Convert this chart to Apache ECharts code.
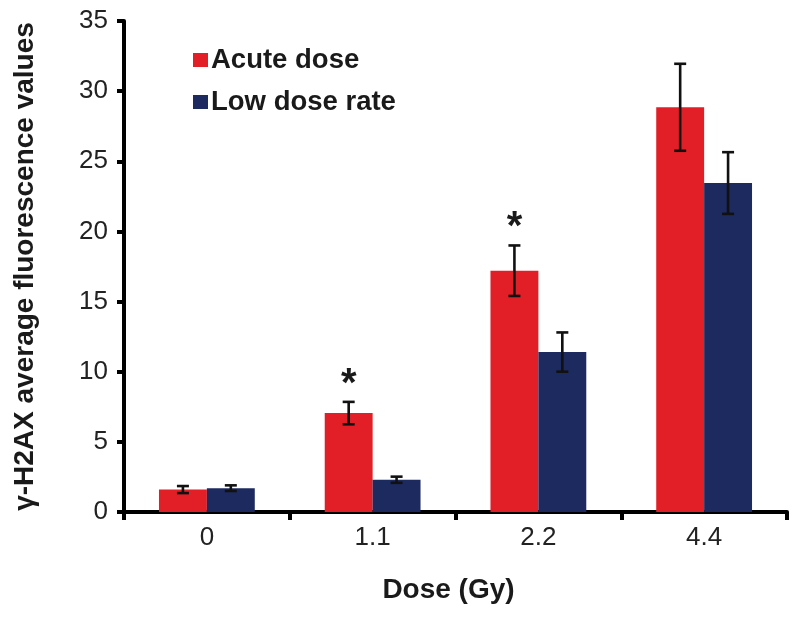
<!DOCTYPE html>
<html>
<head>
<meta charset="utf-8">
<script src="https://cdn.jsdelivr.net/npm/echarts@6/dist/echarts.min.js"></script>
<style>html,body{margin:0;padding:0;background:#fff;}#c{width:800px;height:619px;}</style>
</head>
<body>
<div id="c"></div>
<script>
const categories = ['0', '1.1', '2.2', '4.4'];
const acuteMeans = [1.6, 7.05, 17.2, 28.85];
const acuteErrors = [0.25, 0.8, 1.8, 3.1];
const lowRateMeans = [1.7, 2.3, 11.4, 23.45];
const lowRateErrors = [0.2, 0.22, 1.4, 2.2];
const significant = [false, true, true, false];
const yTicks = { min: 0, max: 35, interval: 5 };

const RED = '#e21f26';
const NAVY = '#1c2a5f';
const FONT = '"Liberation Sans", Arial, Helvetica, sans-serif';
const BAR_FRAC = 0.289;

function errorSeries(means, errs, sign) {
  return {
    type: 'custom',
    silent: true,
    z: 5,
    data: means.map((m, i) => [i, m, errs[i]]),
    renderItem: function (params, api) {
      const i = api.value(0), m = api.value(1), e = api.value(2);
      const band = api.size([1, 0])[0];
      const off = sign * band * BAR_FRAC / 2;
      const top = api.coord([i, m + e]);
      const bot = api.coord([i, m - e]);
      const x = top[0] + off;
      const cap = 6;
      const st = { stroke: '#111', lineWidth: 2.6 };
      return {
        type: 'group',
        children: [
          { type: 'line', shape: { x1: x, y1: top[1], x2: x, y2: bot[1] }, style: st },
          { type: 'line', shape: { x1: x - cap, y1: top[1], x2: x + cap, y2: top[1] }, style: st },
          { type: 'line', shape: { x1: x - cap, y1: bot[1], x2: x + cap, y2: bot[1] }, style: st }
        ]
      };
    }
  };
}

const chart = echarts.init(document.getElementById('c'), null, { renderer: 'canvas' });
chart.setOption({
  animation: false,
  backgroundColor: '#ffffff',
  textStyle: { fontFamily: FONT },
  grid: { left: 124, right: 13, top: 21, bottom: 107, containLabel: false },
  legend: {
    data: ['Acute dose', 'Low dose rate'],
    orient: 'vertical',
    left: 188,
    top: 41,
    itemWidth: 15,
    itemHeight: 14,
    itemGap: 14,
    icon: 'rect',
    textStyle: { fontFamily: FONT, fontSize: 27.5, fontWeight: 'bold', color: '#1a1a1a', padding: [0, 0, 0, -2] }
  },
  xAxis: {
    type: 'category',
    data: categories,
    name: 'Dose (Gy)',
    nameLocation: 'middle',
    nameGap: 64,
    nameTextStyle: { fontFamily: FONT, fontSize: 28, fontWeight: 'bold', color: '#1a1a1a', padding: [0, 14, 0, 0] },
    axisLine: { lineStyle: { color: '#000', width: 4 } },
    axisTick: { show: true, length: 8, lineStyle: { color: '#000', width: 4 } },
    axisLabel: { fontFamily: FONT, fontSize: 26, color: '#222', margin: 13 }
  },
  yAxis: {
    type: 'value',
    min: yTicks.min,
    max: yTicks.max,
    interval: yTicks.interval,
    name: 'γ-H2AX average fluorescence values',
    nameLocation: 'middle',
    nameGap: 85,
    nameTextStyle: { fontFamily: FONT, fontSize: 28, fontWeight: 'bold', color: '#1a1a1a' },
    axisLine: { show: true, lineStyle: { color: '#000', width: 4 } },
    axisTick: { show: true, length: 7, lineStyle: { color: '#000', width: 4 } },
    axisLabel: { fontFamily: FONT, fontSize: 26, color: '#222', margin: 16 },
    splitLine: { show: false }
  },
  series: [
    { name: 'Acute dose', type: 'bar', data: acuteMeans, barWidth: (BAR_FRAC * 100) + '%', barGap: '0%', itemStyle: { color: RED } },
    { name: 'Low dose rate', type: 'bar', data: lowRateMeans, barWidth: (BAR_FRAC * 100) + '%', barGap: '0%', itemStyle: { color: NAVY } },
    errorSeries(acuteMeans, acuteErrors, -1),
    errorSeries(lowRateMeans, lowRateErrors, 1),
    {
      type: 'custom',
      silent: true,
      z: 6,
      data: acuteMeans.map((m, i) => [i, m + acuteErrors[i], significant[i] ? 1 : 0]),
      renderItem: function (params, api) {
        if (!api.value(2)) return null;
        const band = api.size([1, 0])[0];
        const p = api.coord([api.value(0), api.value(1)]);
        return {
          type: 'text',
          style: {
            x: p[0] - band * BAR_FRAC / 2,
            y: p[1] + 3,
            text: '*',
            fontFamily: FONT,
            fontSize: 40,
            fontWeight: 'bold',
            fill: '#1a1a1a',
            align: 'center',
            verticalAlign: 'bottom'
          }
        };
      }
    }
  ]
});
</script>
</body>
</html>
